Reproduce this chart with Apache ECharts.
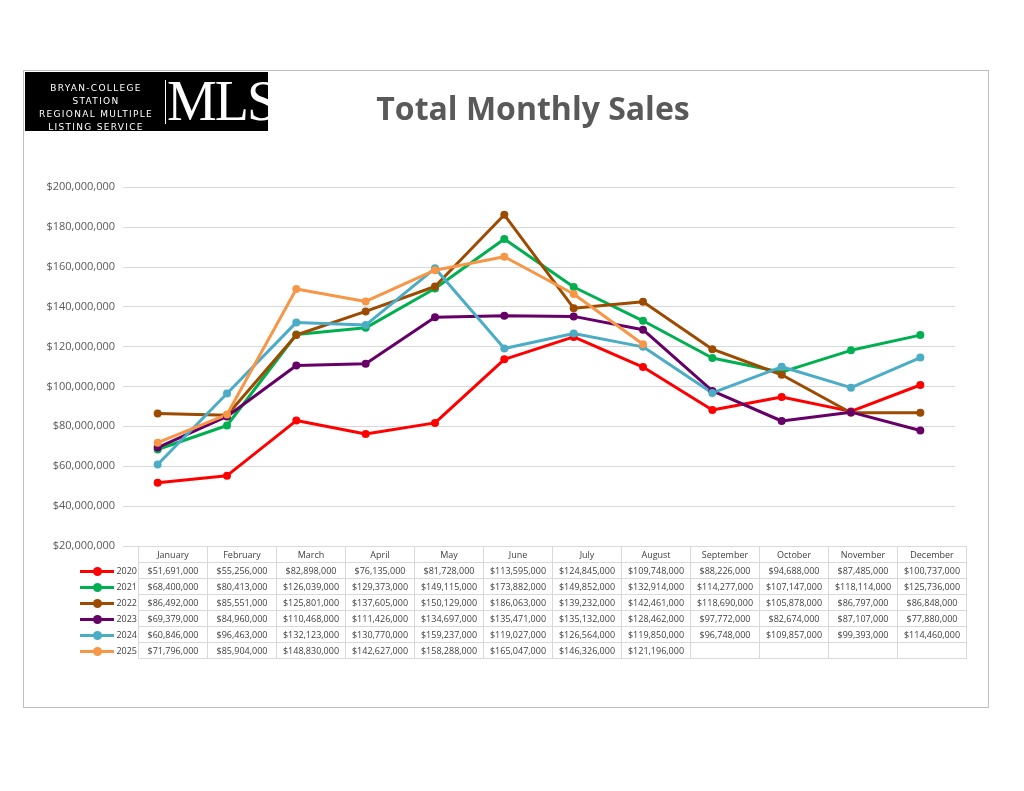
<!DOCTYPE html>
<html><head><meta charset="utf-8">
<script src="https://cdn.jsdelivr.net/npm/echarts@6/dist/echarts.min.js"></script>
<style>
body{margin:0;background:#fff;font-family:Lato,"Open Sans",sans-serif;}
#frame{position:absolute;left:23px;top:70px;width:964px;height:636px;border:1px solid #bfbfbf;}
#logo{position:absolute;left:25px;top:72px;width:243px;height:59px;background:#000;color:#fff;}
#logo .small{position:absolute;left:8px;top:10px;width:126px;font-size:9px;letter-spacing:1.3px;line-height:13px;text-align:center;font-family:"DejaVu Sans",sans-serif;}
#logo .bar{position:absolute;left:140px;top:8px;width:1px;height:44px;background:#fff;}
#logo .big{position:absolute;left:142px;top:0px;font-family:"Liberation Serif",serif;font-size:56px;line-height:59px;letter-spacing:-2px;}
#title{position:absolute;left:300px;top:86px;width:466px;text-align:center;font-size:32px;font-weight:bold;color:#595959;font-family:"Open Sans",sans-serif;}
#chart{position:absolute;left:0;top:0;width:1024px;height:791px;}
#tbl{position:absolute;left:70px;top:546px;border-collapse:collapse;font-size:9px;color:#404040;font-family:"Open Sans",sans-serif;}
#tbl td{border:1px solid #d9d9d9;height:15px;padding:0;text-align:center;width:68px;white-space:nowrap;}
#tbl td.lab{width:52px;border:none;text-align:right;padding-right:1px;}
#tbl td.corner{border:none;}
.mk{display:inline-block;position:relative;width:34px;height:3px;vertical-align:middle;margin-right:2px;}
.mk i{position:absolute;left:13px;top:-3px;width:9px;height:9px;border-radius:50%;background:inherit;}
</style></head><body>
<div id="frame"></div>
<div id="chart"></div>
<div id="logo"><div class="small">BRYAN-COLLEGE STATION<br>REGIONAL MULTIPLE<br>LISTING SERVICE</div><div class="bar"></div><div class="big">MLS</div></div>
<div id="title">Total Monthly Sales</div>
<table id="tbl"></table>
<script>
var months = ['January','February','March','April','May','June','July','August','September','October','November','December'];
var years = ['2020','2021','2022','2023','2024','2025'];
var colors = ['#ff0000','#00b050','#9c4b00','#660066','#4bacc6','#f79646'];
var s2020 = [51691000,55256000,82898000,76135000,81728000,113595000,124845000,109748000,88226000,94688000,87485000,100737000];
var s2021 = [68400000,80413000,126039000,129373000,149115000,173882000,149852000,132914000,114277000,107147000,118114000,125736000];
var s2022 = [86492000,85551000,125801000,137605000,150129000,186063000,139232000,142461000,118690000,105878000,86797000,86848000];
var s2023 = [69379000,84960000,110468000,111426000,134697000,135471000,135132000,128462000,97772000,82674000,87107000,77880000];
var s2024 = [60846000,96463000,132123000,130770000,159237000,119027000,126564000,119850000,96748000,109857000,99393000,114460000];
var s2025 = [71796000,85904000,148830000,142627000,158288000,165047000,146326000,121196000];
var seriesData = [s2020,s2021,s2022,s2023,s2024,s2025];

function money(v){ return '$' + v.toString().replace(/\B(?=(\d{3})+(?!\d))/g, ','); }

var chart = echarts.init(document.getElementById('chart'));
chart.setOption({
    animation: false,
    grid: { left: 123, right: 69, top: 187, bottom: 245 },
    xAxis: { type: 'category', data: months, axisLabel: { show: false }, axisTick: { show: false },
        axisLine: { show: false } },
    yAxis: { type: 'value', min: 20000000, max: 200000000, interval: 20000000,
        axisLabel: { formatter: money, color: '#595959', fontSize: 11, fontFamily: 'Open Sans' },
        splitLine: { lineStyle: { color: '#d9d9d9' } } },
    series: seriesData.map(function (d, i) {
        return { name: years[i], type: 'line', data: d, symbol: 'circle', symbolSize: 8,
            lineStyle: { width: 3, color: colors[i] }, itemStyle: { color: colors[i] } };
    })
});

// data table under the plot
var html = '<tr><td class="corner"></td>' + months.map(function (m) { return '<td>' + m + '</td>'; }).join('') + '</tr>';
seriesData.forEach(function (d, i) {
    html += '<tr><td class="lab"><span class="mk" style="background:' + colors[i] + '"><i></i></span>' + years[i] + '</td>';
    for (var j = 0; j < months.length; j++) html += '<td>' + (d[j] != null ? money(d[j]) : '') + '</td>';
    html += '</tr>';
});
document.getElementById('tbl').innerHTML = html;
</script>
</body></html>
